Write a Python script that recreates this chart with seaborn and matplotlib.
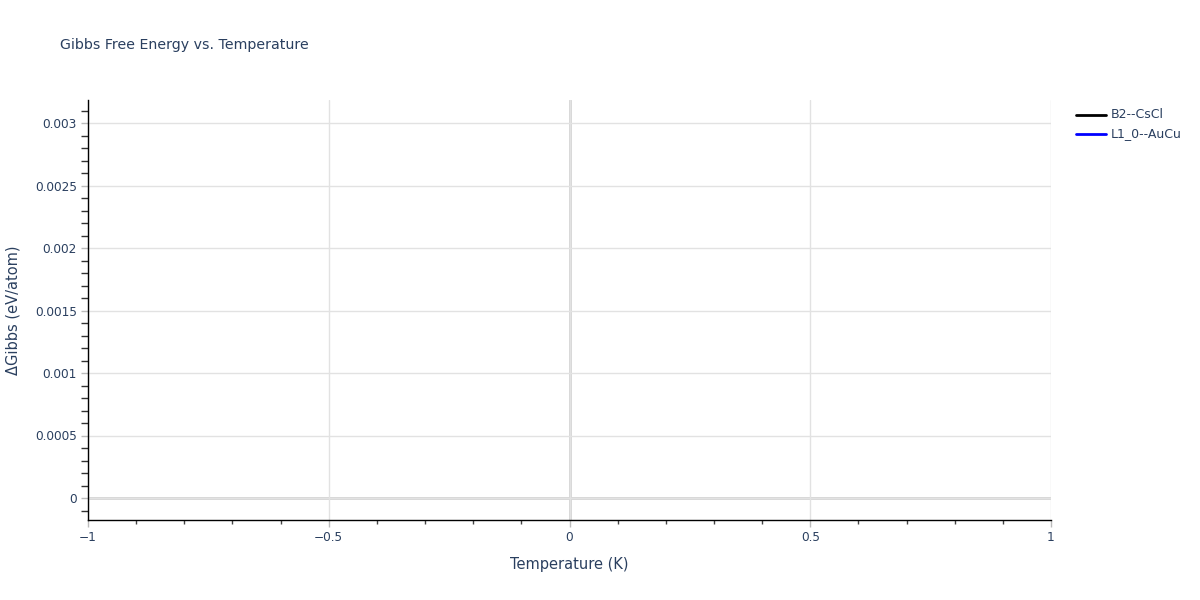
import matplotlib
matplotlib.use("Agg")
import matplotlib.pyplot as plt
import seaborn as sns
import pandas as pd
from matplotlib.ticker import MultipleLocator, FuncFormatter

# data: each phase only has a single point at T = 0 K
phases = ["B2--CsCl", "L1_0--AuCu"]
temperature = [0.0]
gibbs_b2 = [0.0]
gibbs_l10 = [0.0]
colors = ["black", "blue"]

df = pd.concat([
    pd.DataFrame({"T": temperature, "G": gibbs_b2, "phase": phases[0]}),
    pd.DataFrame({"T": temperature, "G": gibbs_l10, "phase": phases[1]}),
])

sns.set_theme(style="white")
plt.rcParams["font.family"] = ["DejaVu Sans"]
txt = "#2a3f5f"

fig = plt.figure(figsize=(12, 6), dpi=100)
ax = fig.add_axes([88 / 1200, 80 / 600, (1051 - 88) / 1200, 420 / 600])

sns.lineplot(data=df, x="T", y="G", hue="phase", palette=colors, ax=ax,
             linewidth=2, legend=False)

ax.set_xlim(-1, 1)
ax.set_ylim(-0.000176, 0.003184)

ax.xaxis.set_major_locator(MultipleLocator(0.5))
ax.xaxis.set_minor_locator(MultipleLocator(0.1))
ax.yaxis.set_major_locator(MultipleLocator(0.0005))
ax.yaxis.set_minor_locator(MultipleLocator(0.0001))


def fmt(v, pos):
    if abs(v) < 1e-12:
        return "0"
    s = ("%.4f" % v).rstrip("0").rstrip(".")
    return s.replace("-", "\u2212")


ax.xaxis.set_major_formatter(FuncFormatter(fmt))
ax.yaxis.set_major_formatter(FuncFormatter(fmt))

ax.grid(True, which="major", color="#e2e2e2", linewidth=1)
ax.axhline(0, color="#d4d4d4", linewidth=2, zorder=0.5)
ax.axvline(0, color="#d4d4d4", linewidth=2, zorder=0.5)
ax.set_axisbelow(True)

for s in ["top", "right"]:
    ax.spines[s].set_visible(False)
for s in ["left", "bottom"]:
    ax.spines[s].set_color("black")
    ax.spines[s].set_linewidth(1)

ax.tick_params(axis="both", which="major", direction="out", length=5,
               width=1, color="#bbbbbb", labelsize=8.7, labelcolor=txt,
               pad=3, bottom=True, left=True)
ax.tick_params(axis="y", which="minor", direction="out", length=5,
               width=1, color="#333333", left=True)
ax.tick_params(axis="x", which="minor", direction="out", length=3,
               width=1, color="#444444", bottom=True)

ax.set_xlabel("Temperature (K)", fontsize=10.5, color=txt, labelpad=9)
ax.set_ylabel("\u0394Gibbs (eV/atom)", fontsize=10.5, color=txt, labelpad=10)

fig.text(60 / 1200, 1 - 45 / 600, "Gibbs Free Energy vs. Temperature",
         fontsize=10.2, color=txt, va="center", ha="left")

# legend
for i, (name, c) in enumerate(zip(phases, colors)):
    y = 1 - (115 + i * 19) / 600
    fig.add_artist(plt.Line2D([1076 / 1200, 1106 / 1200], [y, y],
                              color=c, linewidth=2))
    fig.text(1111 / 1200, y, name, fontsize=9, color=txt, va="center")

fig.savefig("out.png", dpi=100)
